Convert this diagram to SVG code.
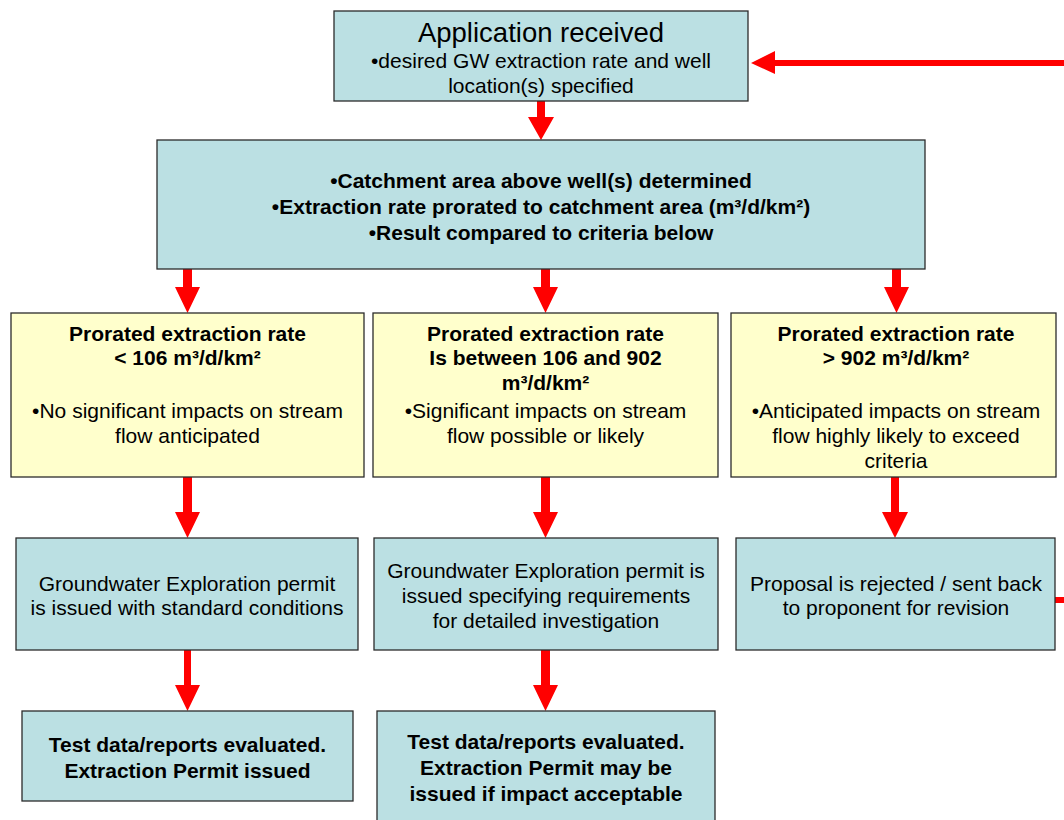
<svg xmlns="http://www.w3.org/2000/svg" width="1064" height="820" viewBox="0 0 1064 820">
<style>
.blue{fill:#bbe0e3;stroke:#2b2b2b;stroke-width:1.3}
.yel{fill:#ffffcc;stroke:#2b2b2b;stroke-width:1.3}
text{font-family:"Liberation Sans",Arial,sans-serif;font-size:21px;fill:#000;text-anchor:middle}
.b{font-weight:bold}
.t{font-size:27.5px}
.arr{fill:#ff0000}
</style>
<rect width="1064" height="820" fill="#fff"/>
<g id="connectors" class="arr">
<polygon points="537,101 545,101 545,117 554,117 541,140 528,117 537,117"/>
<polygon points="183,269 192,269 192,287 200,287 187.5,313 175,287 183,287"/>
<polygon points="541,269 550,269 550,287 558,287 545.5,313 533,287 541,287"/>
<polygon points="892,269 901,269 901,287 909,287 896.5,313 884,287 892,287"/>
<polygon points="183,477 192,477 192,512 200,512 187.5,538 175,512 183,512"/>
<polygon points="541,477 550,477 550,512 558,512 545.5,538 533,512 541,512"/>
<polygon points="891,477 899,477 899,512 908,512 895,538 882,512 891,512"/>
<polygon points="184,650 191,650 191,685 200,685 187.5,711 175,685 184,685"/>
<polygon points="541,650 550,650 550,685 558,685 545.5,711 533,685 541,685"/>
<polygon points="1064,60 775,60 775,51 751,63 775,74 775,66 1064,66"/>
<rect x="1055" y="597" width="9" height="6"/>
</g>
<g id="n_app">
<rect class="blue" x="334" y="11" width="414" height="90"/>
<text class="t" x="541" y="42">Application received</text>
<text x="541" y="68">•desired GW extraction rate and well</text>
<text x="541" y="93">location(s) specified</text>
</g>
<g id="n_catch">
<rect class="blue" x="157" y="140" width="768" height="129"/>
<text class="b" x="541" y="188">•Catchment area above well(s) determined</text>
<text class="b" x="541" y="214">•Extraction rate prorated to catchment area (m³/d/km²)</text>
<text class="b" x="541" y="240">•Result compared to criteria below</text>
</g>
<g id="n_low">
<rect class="yel" x="11" y="313" width="353" height="164"/>
<text class="b" x="187.5" y="341">Prorated extraction rate</text>
<text class="b" x="187.5" y="365">&lt; 106 m³/d/km²</text>
<text x="187.5" y="418">•No significant impacts on stream</text>
<text x="187.5" y="443">flow anticipated</text>
</g>
<g id="n_mid">
<rect class="yel" x="373" y="313" width="345" height="164"/>
<text class="b" x="545.5" y="341">Prorated extraction rate</text>
<text class="b" x="545.5" y="365">Is between 106 and 902</text>
<text class="b" x="545.5" y="390">m³/d/km²</text>
<text x="545.5" y="418">•Significant impacts on stream</text>
<text x="545.5" y="443">flow possible or likely</text>
</g>
<g id="n_high">
<rect class="yel" x="731" y="313" width="325" height="164"/>
<text class="b" x="896" y="341">Prorated extraction rate</text>
<text class="b" x="896" y="365">&gt; 902 m³/d/km²</text>
<text x="896" y="418">•Anticipated impacts on stream</text>
<text x="896" y="443">flow highly likely to exceed</text>
<text x="896" y="468">criteria</text>
</g>
<g id="n_permit_std">
<rect class="blue" x="16" y="538" width="342" height="112"/>
<text x="187" y="591">Groundwater Exploration permit</text>
<text x="187" y="615">is issued with standard conditions</text>
</g>
<g id="n_permit_req">
<rect class="blue" x="374" y="538" width="344" height="112"/>
<text x="546" y="578">Groundwater Exploration permit is</text>
<text x="546" y="603">issued specifying requirements</text>
<text x="546" y="628">for detailed investigation</text>
</g>
<g id="n_reject">
<rect class="blue" x="736" y="538" width="319" height="112"/>
<text x="896" y="591">Proposal is rejected / sent back</text>
<text x="896" y="615">to proponent for revision</text>
</g>
<g id="n_eval1">
<rect class="blue" x="22" y="711" width="331" height="90"/>
<text class="b" x="187.5" y="752">Test data/reports evaluated.</text>
<text class="b" x="187.5" y="778">Extraction Permit issued</text>
</g>
<g id="n_eval2">
<rect class="blue" x="377" y="711" width="338" height="120"/>
<text class="b" x="546" y="749">Test data/reports evaluated.</text>
<text class="b" x="546" y="775">Extraction Permit may be</text>
<text class="b" x="546" y="801">issued if impact acceptable</text>
</g>
</svg>
